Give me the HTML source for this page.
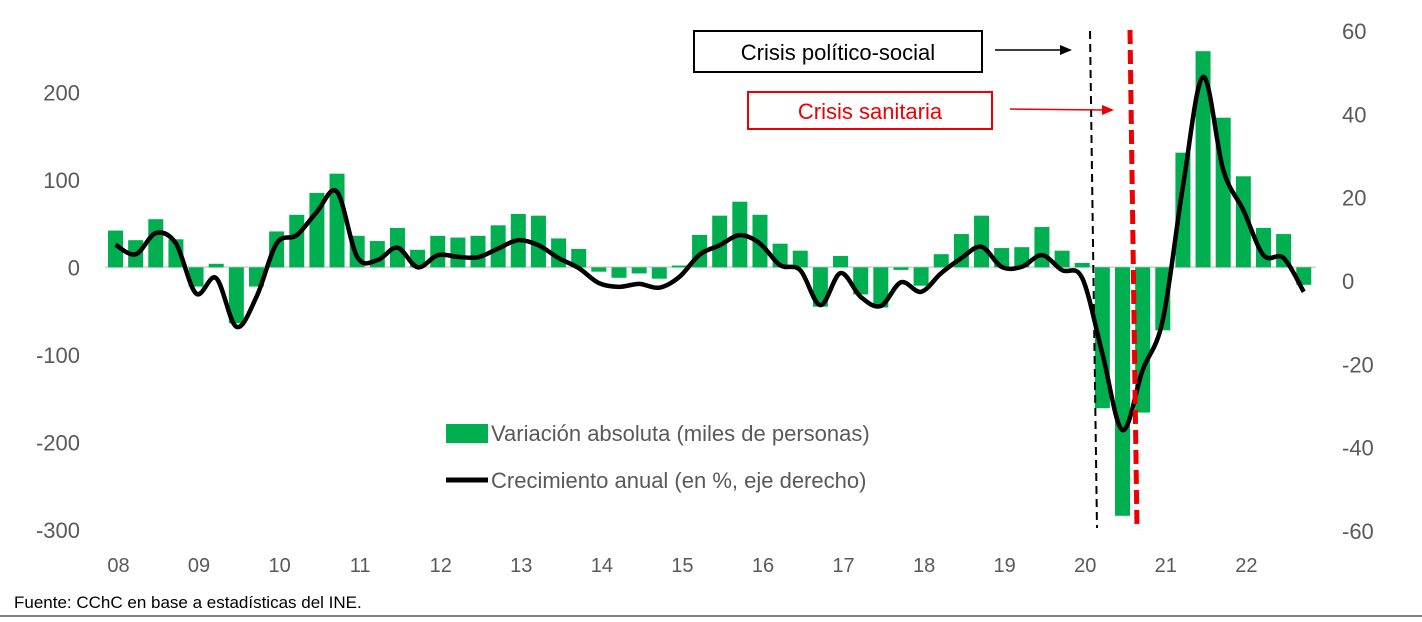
<!DOCTYPE html>
<html><head><meta charset="utf-8"><style>
body{margin:0;background:#fff;width:1422px;height:617px;overflow:hidden;font-family:"Liberation Sans",sans-serif}
</style></head><body>
<svg id="chart" width="1422" height="617" xmlns="http://www.w3.org/2000/svg" style="font-family:'Liberation Sans',sans-serif">
<g id="axes"></g><g id="bars"></g><g id="lines"></g>
<g id="ann">
<line x1="1090" y1="31" x2="1097" y2="528" stroke="#000" stroke-width="2" stroke-dasharray="8,5"/>
<line x1="1130" y1="30" x2="1137" y2="530" stroke="#e00" stroke-width="5" stroke-dasharray="14,6"/>
<rect x="694" y="31" width="288" height="41" fill="#fff" stroke="#000" stroke-width="2"/>
<text x="838" y="60" text-anchor="middle" font-size="22" fill="#000">Crisis político-social</text>
<line x1="995" y1="50" x2="1062" y2="50" stroke="#000" stroke-width="1.5"/>
<polygon points="1072,50 1060,45 1060,55" fill="#000"/>
<rect x="748" y="92" width="244" height="37" fill="#fff" stroke="#e00" stroke-width="2"/>
<text x="870" y="119" text-anchor="middle" font-size="22" fill="#e00">Crisis sanitaria</text>
<line x1="1010" y1="109" x2="1102" y2="110" stroke="#e00" stroke-width="1.5"/>
<polygon points="1114,110 1102,105 1102,115" fill="#e00"/>
</g>
<g id="legend">
<rect x="446" y="424" width="42" height="19" fill="#00b050"/>
<text x="491" y="441" font-size="22" fill="#595959">Variación absoluta (miles de personas)</text>
<line x1="446" y1="480" x2="488" y2="480" stroke="#000" stroke-width="5"/>
<text x="491" y="488" font-size="22" fill="#595959">Crecimiento anual (en %, eje derecho)</text>
</g>
<text x="14" y="608" font-size="17" fill="#000">Fuente: CChC en base a estadísticas del INE.</text>
<line x1="0" y1="616" x2="1422" y2="616" stroke="#000" stroke-width="1"/>
</svg>
<script>
const barValues=[42,31,55,32,-22,4,-64,-22,41,60,85,107,36,30,45,20,36,34,36,48,61,59,33,21,-5,-12,-7,-13,2,37,59,75,60,27,19,-45,13,-31,-46,-3,-21,15,38,59,22,23,46,19,5,-161,-284,-166,-72,131,247,171,104,45,38,-20];
const growthValues=[8.7,6.4,11.5,9,-3,0.7,-11,-3.8,9,11,16.6,21.4,5.8,5,8,3.3,6.2,5.8,5.7,7.8,9.8,8.6,5.5,3.1,-0.5,-1.4,-0.7,-1.6,1,6.3,8.6,11,9,3.8,2.6,-5.8,1.9,-3.8,-6,-0.3,-2.6,1.9,5.5,8.2,3.4,3.4,6.2,2.6,0.7,-17.4,-35.8,-21.4,-9.4,22.7,49,26.7,17,6.2,5.5,-2.6];
const yearLabels=["08","09","10","11","12","13","14","15","16","17","18","19","20","21","22"];
const leftTicks=[200,100,0,-100,-200,-300];
const rightTicks=[60,40,20,0,-20,-40,-60];
const NS="http://www.w3.org/2000/svg";
const xB=i=>115.5+i*20.14;
const yL=v=>267.3-v*0.875;
const yR=v=>281-v*4.165;
function mk(t,a,p){const e=document.createElementNS(NS,t);for(const k in a)e.setAttribute(k,a[k]);p.appendChild(e);return e;}
const ax=document.getElementById('axes');
const zl=mk('line',{x1:105,y1:267.3,x2:1316,y2:267.3,stroke:'#d9d9d9','stroke-width':2},ax);


leftTicks.forEach(v=>{const t=mk('text',{x:80,y:yL(v)+8,'text-anchor':'end','font-size':22,fill:'#595959'},ax);t.textContent=v;

});
rightTicks.forEach(v=>{const t=mk('text',{x:1342,y:yR(v)+8,'font-size':22,fill:'#595959'},ax);t.textContent=v;

});
yearLabels.forEach((l,i)=>{const t=mk('text',{x:xB(i*4)+3,y:572,'text-anchor':'middle','font-size':20,fill:'#595959'},ax);t.textContent=l;

});
const bg=document.getElementById('bars');
barValues.forEach((v,i)=>{const y0=yL(0),y1=yL(v);const r=mk('rect',{x:xB(i)-7.5,y:Math.min(y0,y1),width:15,height:Math.abs(y1-y0),fill:'#00b050'},bg);

});
const pts=growthValues.map((v,i)=>[xB(i),yR(v)]);
let d='M'+pts[0][0]+','+pts[0][1];
for(let i=0;i<pts.length-1;i++){const p0=pts[Math.max(0,i-1)],p1=pts[i],p2=pts[i+1],p3=pts[Math.min(pts.length-1,i+2)];
d+=` C${p1[0]+(p2[0]-p0[0])/6},${p1[1]+(p2[1]-p0[1])/6} ${p2[0]-(p3[0]-p1[0])/6},${p2[1]-(p3[1]-p1[1])/6} ${p2[0]},${p2[1]}`;}
const ln=mk('path',{d:d,fill:'none',stroke:'#000','stroke-width':4.5,'stroke-linejoin':'round'},document.getElementById('lines'));


</script>
</body></html>
